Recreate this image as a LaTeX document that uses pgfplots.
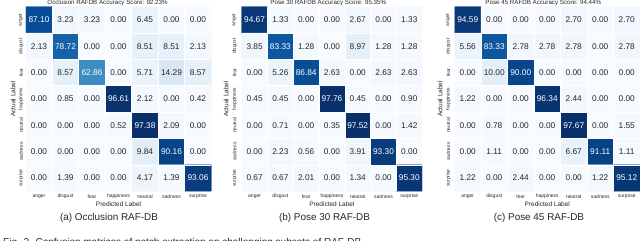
\documentclass[border=0pt]{standalone}
\usepackage{fontspec}
\setmainfont{Liberation Sans}
\usepackage{pgfplots}
\usepackage{pgfplotstable}
\pgfplotsset{compat=1.18}

\pgfplotsset{colormap={blues}{rgb255=(247,251,255) rgb255=(222,235,247) rgb255=(198,219,239) rgb255=(158,202,225) rgb255=(107,174,214) rgb255=(66,146,198) rgb255=(33,113,181) rgb255=(8,81,156) rgb255=(8,48,107)}}
\definecolor{annot}{HTML}{262626}

% Occlusion RAF-DB
\pgfplotstableread[row sep=\\]{
c r v\\
0 0 87.10\\ 1 0 3.23\\ 2 0 3.23\\ 3 0 0.00\\ 4 0 6.45\\ 5 0 0.00\\ 6 0 0.00\\
0 1 2.13\\ 1 1 78.72\\ 2 1 0.00\\ 3 1 0.00\\ 4 1 8.51\\ 5 1 8.51\\ 6 1 2.13\\
0 2 0.00\\ 1 2 8.57\\ 2 2 62.86\\ 3 2 0.00\\ 4 2 5.71\\ 5 2 14.29\\ 6 2 8.57\\
0 3 0.00\\ 1 3 0.85\\ 2 3 0.00\\ 3 3 96.61\\ 4 3 2.12\\ 5 3 0.00\\ 6 3 0.42\\
0 4 0.00\\ 1 4 0.00\\ 2 4 0.00\\ 3 4 0.52\\ 4 4 97.38\\ 5 4 2.09\\ 6 4 0.00\\
0 5 0.00\\ 1 5 0.00\\ 2 5 0.00\\ 3 5 0.00\\ 4 5 9.84\\ 5 5 90.16\\ 6 5 0.00\\
0 6 0.00\\ 1 6 1.39\\ 2 6 0.00\\ 3 6 0.00\\ 4 6 4.17\\ 5 6 1.39\\ 6 6 93.06\\
}\tabA

% Pose 30 RAF-DB
\pgfplotstableread[row sep=\\]{
c r v\\
0 0 94.67\\ 1 0 1.33\\ 2 0 0.00\\ 3 0 0.00\\ 4 0 2.67\\ 5 0 0.00\\ 6 0 1.33\\
0 1 3.85\\ 1 1 83.33\\ 2 1 1.28\\ 3 1 0.00\\ 4 1 8.97\\ 5 1 1.28\\ 6 1 1.28\\
0 2 0.00\\ 1 2 5.26\\ 2 2 86.84\\ 3 2 2.63\\ 4 2 0.00\\ 5 2 2.63\\ 6 2 2.63\\
0 3 0.45\\ 1 3 0.45\\ 2 3 0.00\\ 3 3 97.76\\ 4 3 0.45\\ 5 3 0.00\\ 6 3 0.90\\
0 4 0.00\\ 1 4 0.71\\ 2 4 0.00\\ 3 4 0.35\\ 4 4 97.52\\ 5 4 0.00\\ 6 4 1.42\\
0 5 0.00\\ 1 5 2.23\\ 2 5 0.56\\ 3 5 0.00\\ 4 5 3.91\\ 5 5 93.30\\ 6 5 0.00\\
0 6 0.67\\ 1 6 0.67\\ 2 6 2.01\\ 3 6 0.00\\ 4 6 1.34\\ 5 6 0.00\\ 6 6 95.30\\
}\tabB

% Pose 45 RAF-DB
\pgfplotstableread[row sep=\\]{
c r v\\
0 0 94.59\\ 1 0 0.00\\ 2 0 0.00\\ 3 0 0.00\\ 4 0 2.70\\ 5 0 0.00\\ 6 0 2.70\\
0 1 5.56\\ 1 1 83.33\\ 2 1 2.78\\ 3 1 2.78\\ 4 1 2.78\\ 5 1 0.00\\ 6 1 2.78\\
0 2 0.00\\ 1 2 10.00\\ 2 2 90.00\\ 3 2 0.00\\ 4 2 0.00\\ 5 2 0.00\\ 6 2 0.00\\
0 3 1.22\\ 1 3 0.00\\ 2 3 0.00\\ 3 3 96.34\\ 4 3 2.44\\ 5 3 0.00\\ 6 3 0.00\\
0 4 0.00\\ 1 4 0.78\\ 2 4 0.00\\ 3 4 0.00\\ 4 4 97.67\\ 5 4 0.00\\ 6 4 1.55\\
0 5 0.00\\ 1 5 1.11\\ 2 5 0.00\\ 3 5 0.00\\ 4 5 6.67\\ 5 5 91.11\\ 6 5 1.11\\
0 6 1.22\\ 1 6 0.00\\ 2 6 2.44\\ 3 6 0.00\\ 4 6 0.00\\ 5 6 1.22\\ 6 6 95.12\\
}\tabC

\pgfplotsset{
  cm/.style={
    scale only axis, height=184.5pt, anchor=north west,
    xmin=-0.5, xmax=6.5, ymin=-0.5, ymax=6.5, y dir=reverse,
    enlargelimits=false,
    xtick={0,...,6}, ytick={0,...,6},
    xticklabels={anger,disgust,fear,happiness,neutral,sadness,surprise},
    yticklabels={anger,disgust,fear,happiness,neutral,sadness,surprise},
    major tick length=0pt, minor tick length=0pt,
    axis line style={draw=none}, tick style={draw=none},
    minor xtick={0.5,1.5,2.5,3.5,4.5,5.5},
    minor ytick={0.5,1.5,2.5,3.5,4.5,5.5},
    xminorgrids=true, yminorgrids=true,
    minor grid style={white, line width=0.6pt},
    axis on top,
    xticklabel style={font=\fontsize{5.0}{6}\selectfont, text=annot, anchor=center, yshift=-5.2pt, inner sep=0pt},
    colormap name=blues, point meta min=0,
    xlabel={Predicted Label}, ylabel={Actual Label},
    every axis x label/.style={font=\fontsize{6.5}{7}\selectfont, text=annot, at={(axis description cs:0.5,0)}, anchor=center, yshift=-13.2pt, inner sep=0pt},
    every axis title/.style={font=\fontsize{6.2}{7}\selectfont, text=annot, anchor=base, yshift=2pt, inner sep=0pt},
  },
  cellsW/.style={only marks, mark=none, point meta=explicit symbolic,
    nodes near coords,
    every node near coord/.append style={font=\fontsize{8.3}{9}\selectfont, anchor=center, inner sep=0pt, text=white}},
  cellsD/.style={only marks, mark=none, point meta=explicit symbolic,
    nodes near coords,
    every node near coord/.append style={font=\fontsize{8.3}{9}\selectfont, anchor=center, inner sep=0pt, text=annot}},
}

\begin{document}
\begin{tikzpicture}[x=1pt,y=1pt]
\useasboundingbox (0,0) rectangle (640,-241);

% ---- (a) Occlusion
\begin{axis}[cm, at={(25.75pt,-6.7pt)}, width=185.5pt, point meta max=97.38,
  yticklabel style={font=\fontsize{4.9}{6}\selectfont, text=annot, xshift=-4.6pt, rotate=90, anchor=center, inner sep=0pt},
  every axis y label/.style={font=\fontsize{6.5}{7}\selectfont, text=annot, at={(axis description cs:-0.068,0.5)}, rotate=90, anchor=center, inner sep=0pt},
  title={Occlusion RAFDB Accuracy Score: 92.23\%},
  title style={at={(axis description cs:0.4407,1)}}]
\addplot[matrix plot, mesh/cols=7, point meta=explicit] table[x=c,y=r,meta=v]{\tabA};
\addplot[cellsW, restrict expr to domain={abs(\thisrow{c}-\thisrow{r})}{-0.1:0.1}] table[x=c,y=r,meta=v]{\tabA};
\addplot[cellsD, restrict expr to domain={abs(\thisrow{c}-\thisrow{r})}{0.5:10}] table[x=c,y=r,meta=v]{\tabA};
\end{axis}

% ---- (b) Pose 30
\begin{axis}[cm, at={(241.7pt,-6.7pt)}, width=180.5pt, point meta max=97.76,
  yticklabel style={font=\fontsize{4.9}{6}\selectfont, text=annot, xshift=-7.2pt, rotate=90, anchor=center, inner sep=0pt},
  every axis y label/.style={font=\fontsize{6.5}{7}\selectfont, text=annot, at={(axis description cs:-0.087,0.5)}, rotate=90, anchor=center, inner sep=0pt},
  title={Pose 30 RAFDB Accuracy Score: 95.35\%},
  title style={at={(axis description cs:0.4798,1)}}]
\addplot[matrix plot, mesh/cols=7, point meta=explicit] table[x=c,y=r,meta=v]{\tabB};
\addplot[cellsW, restrict expr to domain={abs(\thisrow{c}-\thisrow{r})}{-0.1:0.1}] table[x=c,y=r,meta=v]{\tabB};
\addplot[cellsD, restrict expr to domain={abs(\thisrow{c}-\thisrow{r})}{0.5:10}] table[x=c,y=r,meta=v]{\tabB};
\end{axis}

% ---- (c) Pose 45
\begin{axis}[cm, at={(454.5pt,-6.7pt)}, width=185.5pt, point meta max=97.67,
  yticklabel style={font=\fontsize{4.9}{6}\selectfont, text=annot, xshift=-6.2pt, rotate=90, anchor=center, inner sep=0pt},
  every axis y label/.style={font=\fontsize{6.5}{7}\selectfont, text=annot, at={(axis description cs:-0.078,0.5)}, rotate=90, anchor=center, inner sep=0pt},
  title={Pose 45 RAFDB Accuracy Score: 94.44\%},
  title style={at={(axis description cs:0.4787,1)}}]
\addplot[matrix plot, mesh/cols=7, point meta=explicit] table[x=c,y=r,meta=v]{\tabC};
\addplot[cellsW, restrict expr to domain={abs(\thisrow{c}-\thisrow{r})}{-0.1:0.1}] table[x=c,y=r,meta=v]{\tabC};
\addplot[cellsD, restrict expr to domain={abs(\thisrow{c}-\thisrow{r})}{0.5:10}] table[x=c,y=r,meta=v]{\tabC};
\end{axis}

\node[font=\fontsize{9.9}{11}\selectfont, text=annot, anchor=center, inner sep=0pt] at (109,-218) {(a) Occlusion RAF-DB};
\node[font=\fontsize{9.9}{11}\selectfont, text=annot, anchor=center, inner sep=0pt] at (324.5,-218) {(b) Pose 30 RAF-DB};
\node[font=\fontsize{9.9}{11}\selectfont, text=annot, anchor=center, inner sep=0pt] at (539,-218) {(c) Pose 45 RAF-DB};
\node[font=\fontsize{10}{11}\selectfont, text=annot, anchor=north west, inner sep=0pt] at (3,-238.3) {Fig. 2. Confusion matrices of patch extraction on challenging subsets of RAF-DB.};
\end{tikzpicture}
\end{document}
